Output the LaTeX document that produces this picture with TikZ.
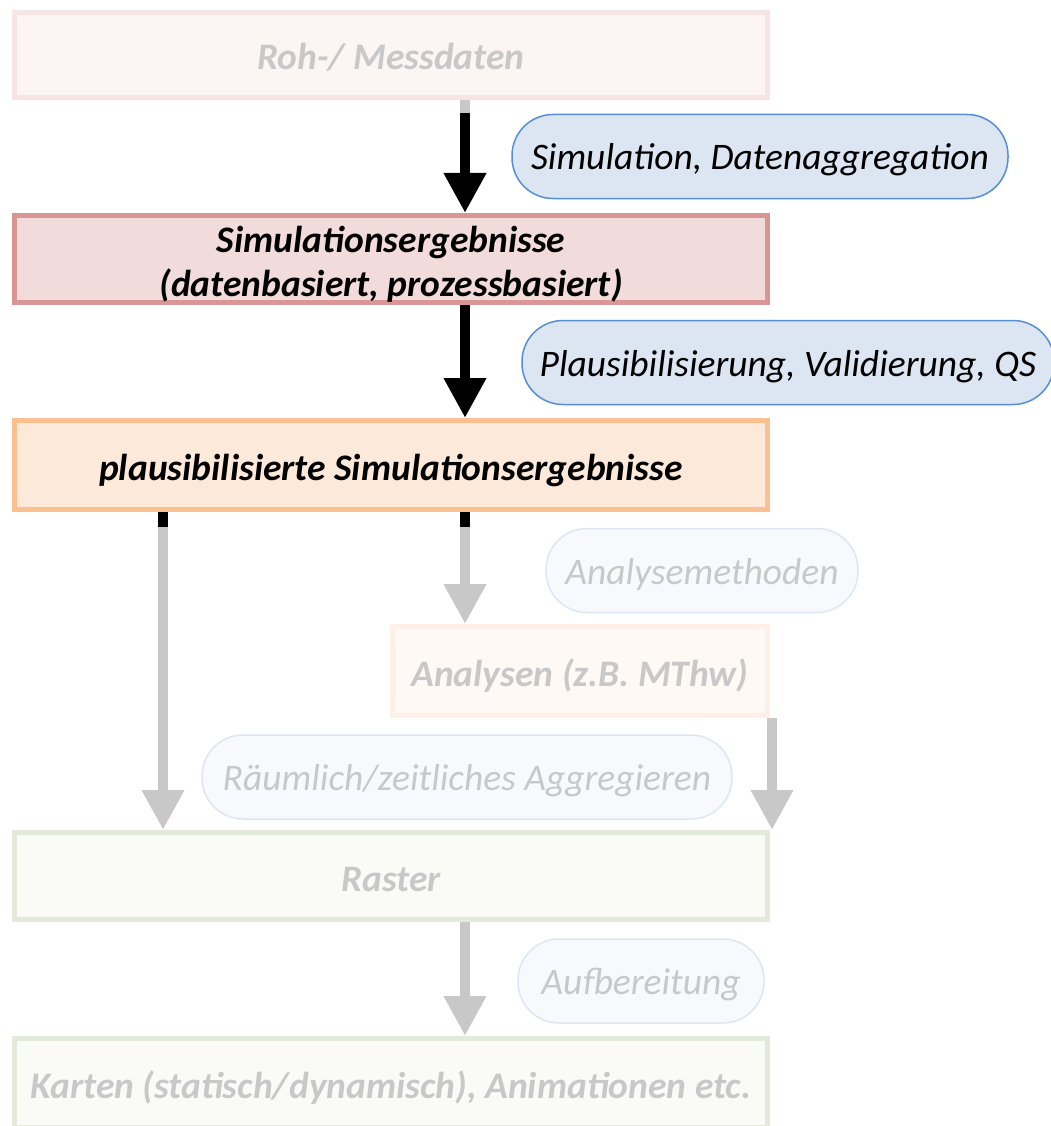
\documentclass[tikz,border=0pt]{standalone}
\usepackage{fontspec}
\setmainfont{Carlito}
\usetikzlibrary{arrows.meta}

\definecolor{simfill}{HTML}{F2DCDB}
\definecolor{simline}{HTML}{D99694}
\definecolor{plfill}{HTML}{FDE9D9}
\definecolor{plline}{HTML}{FAC090}
\definecolor{rohfill}{HTML}{FBF5F4}
\definecolor{rohline}{HTML}{F6E5E4}
\definecolor{anafill}{HTML}{FEF9F5}
\definecolor{analine}{HTML}{FEF0E6}
\definecolor{rasfill}{HTML}{FAFBF7}
\definecolor{rasline}{HTML}{E4EAD9}
\definecolor{pillfill}{HTML}{DCE6F2}
\definecolor{pillline}{HTML}{558ED5}
\definecolor{fpillfill}{HTML}{F7F9FC}
\definecolor{fpillline}{HTML}{DDE6F3}
\definecolor{faded}{HTML}{C8C8C8}

\tikzset{
  box/.style={rectangle, line width=5pt, inner sep=0pt, align=center,
    text height=32pt, text depth=2pt,
    font=\fontsize{37.5}{44}\selectfont\bfseries\itshape},
  pill/.style={rectangle, rounded corners=41pt, line width=1.5pt, inner sep=0pt,
    minimum height=84pt, text height=30pt, text depth=3pt,
    font=\fontsize{37.5}{44}\selectfont\itshape,
    draw=pillline, fill=pillfill},
  fpill/.style={pill, draw=fpillline, fill=fpillfill, text=faded},
  flow/.style={line width=10pt, -{Triangle[width=40pt,length=40pt]}},
  fflow/.style={flow, draw=faded},
}

\begin{document}
\begin{tikzpicture}[x=1pt,y=-1pt]
  \clip (0,0) rectangle (1051,1126);

  % Kaesten
  \node[box, draw=rohline, fill=rohfill, text=faded, minimum width=753pt, minimum height=85pt]
    (roh) at (391,55) {Roh-/ Messdaten};
  \node[box, draw=simline, fill=simfill, minimum width=753pt, minimum height=87pt,
    text height=76pt] (sim) at (391,259) {Simulationsergebnisse\\(datenbasiert, prozessbasiert)};
  \node[box, draw=plline, fill=plfill, minimum width=753pt, minimum height=89pt]
    (plaus) at (391,465) {plausibilisierte Simulationsergebnisse};
  \node[box, draw=analine, fill=anafill, text=faded, minimum width=375pt, minimum height=89pt]
    (ana) at (580,671) {Analysen (z.B. MThw)};
  \node[box, draw=rasline, fill=rasfill, text=faded, minimum width=753pt, minimum height=87pt]
    (raster) at (391,876) {Raster};
  \node[box, draw=rasline, fill=rasfill, text=faded, minimum width=753pt, minimum height=89pt]
    (karten) at (391,1083) {Karten (statisch/dynamisch), Animationen etc.};

  % Arbeitsschritte
  \node[pill, minimum width=496pt] (simagg) at (760,156.5) {Simulation, Datenaggregation};
  \node[pill, minimum width=532pt] (plval) at (788,362.5) {Plausibilisierung, Validierung, QS};
  \node[fpill, minimum width=312pt] (methoden) at (702,570.5) {Analysemethoden};
  \node[fpill, minimum width=530pt] (aggr) at (467,777) {Räumlich/zeitliches Aggregieren};
  \node[fpill, minimum width=246pt] (aufb) at (641,981) {Aufbereitung};

  % Pfeile
  \draw[flow] ([xshift=74pt]roh.south) -- ([xshift=74pt]sim.north);
  \draw[faded, line width=10pt] ([xshift=74pt]roh.south) -- ++(0,13);
  \draw[flow] ([xshift=74pt]sim.south) -- ([xshift=74pt]plaus.north);
  \draw[fflow] ([xshift=74pt]plaus.south) -- ([xshift=74pt]plaus.south |- ana.north);
  \draw[line width=10pt] ([xshift=74pt]plaus.south) -- ++(0,15);
  \draw[fflow] ([xshift=-228pt]plaus.south) -- ([xshift=-228pt]raster.north);
  \draw[line width=10pt] ([xshift=-228pt]plaus.south) -- ++(0,15);
  \draw[fflow] ([xshift=2pt]ana.south east) -- ([xshift=2pt]ana.south east |- raster.north);
  \draw[fflow] ([xshift=74pt]raster.south) -- ([xshift=74pt]karten.north);
\end{tikzpicture}
\end{document}
